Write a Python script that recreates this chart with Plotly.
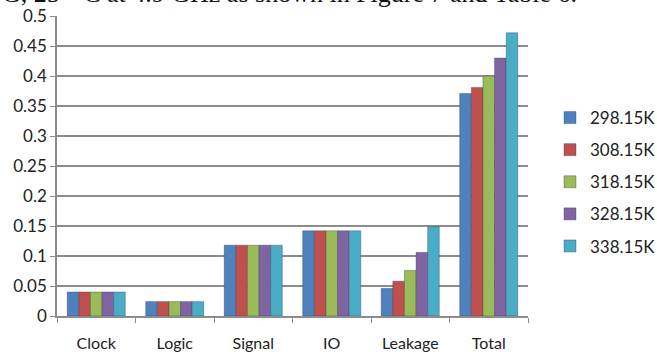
import plotly.graph_objects as go

categories = ["Clock", "Logic", "Signal", "IO", "Leakage", "Total"]
series_names = ["298.15K", "308.15K", "318.15K", "328.15K", "338.15K"]
v_298 = [0.040, 0.024, 0.118, 0.142, 0.046, 0.371]
v_308 = [0.040, 0.024, 0.118, 0.142, 0.058, 0.381]
v_318 = [0.040, 0.024, 0.118, 0.142, 0.076, 0.400]
v_328 = [0.040, 0.024, 0.118, 0.142, 0.106, 0.430]
v_338 = [0.040, 0.024, 0.118, 0.142, 0.149, 0.472]
series_values = [v_298, v_308, v_318, v_328, v_338]
colors = ["#4F81BD", "#C0504D", "#9BBB59", "#8064A2", "#4BACC6"]
caption = "G, 25 \u00b0 C at 4.9 GHz as shown in Figure 7 and Table 6."

W, H = 657, 356
ml, mr, mt, mb = 57, 129, 16, 40
pw = W - ml - mr
ph = H - mt - mb

fig = go.Figure()
for name, vals, col in zip(series_names, series_values, colors):
    fig.add_trace(go.Bar(
        x=categories, y=vals, name=name, legendgroup=name,
        marker=dict(color=col, line=dict(width=0.6, color="rgba(40,60,80,0.6)")),
    ))

fig.update_layout(
    width=W, height=H,
    margin=dict(l=ml, r=mr, t=mt, b=mb, autoexpand=False),
    paper_bgcolor="white", plot_bgcolor="white",
    barmode="group", bargap=0.26, bargroupgap=0,
    font=dict(family="Lato, 'Open Sans', sans-serif", size=17, color="#222"),
    legend=dict(
        x=(550 - ml) / pw, xanchor="left",
        y=(mt + ph - 182) / ph, yanchor="middle",
        font=dict(size=17, color="#222"),
        tracegroupgap=7, itemwidth=30,
        bgcolor="rgba(0,0,0,0)",
    ),
    showlegend=True,
)

fig.update_xaxes(
    automargin=False,
    showline=True, linecolor="#8c8c8c", linewidth=1.5,
    ticks="outside", tickson="boundaries", ticklen=5, tickcolor="#8c8c8c",
    ticklabelstandoff=12, tickfont=dict(size=16),
    showgrid=False,
)
fig.update_yaxes(
    automargin=False,
    range=[0, 0.5], dtick=0.05,
    showline=True, linecolor="#8c8c8c", linewidth=1.5,
    ticks="outside", ticklen=5, tickcolor="#8c8c8c",
    showgrid=True, gridcolor="#8c8c8c", gridwidth=1.5,
    zeroline=False, tickfont=dict(size=17),
)

fig.add_annotation(
    text=caption, xref="paper", yref="paper",
    x=-ml / pw, y=1 + (mt + 7) / ph, xanchor="left", yanchor="middle",
    showarrow=False,
    font=dict(family="'Liberation Serif', serif", size=26, color="#111"),
)

fig.write_html("out.html")
